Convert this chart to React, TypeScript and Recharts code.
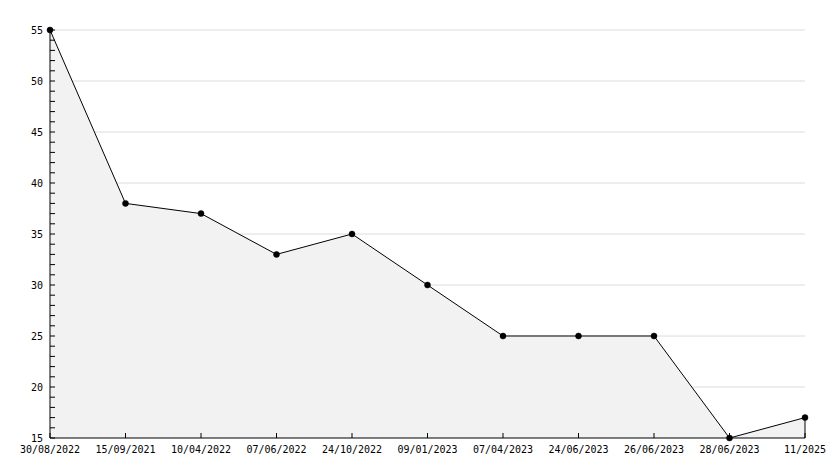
import { Area, AreaChart, CartesianGrid, ReferenceLine, XAxis, YAxis } from "recharts";

const DATES = [
  "30/08/2022",
  "15/09/2021",
  "10/04/2022",
  "07/06/2022",
  "24/10/2022",
  "09/01/2023",
  "07/04/2023",
  "24/06/2023",
  "26/06/2023",
  "28/06/2023",
  "11/2025",
];
const VALUES = [55, 38, 37, 33, 35, 30, 25, 25, 25, 15, 17];
const Y_TICKS = [15, 16, 17, 18, 19, 20, 21, 22, 23, 24, 25, 26, 27, 28, 29, 30, 31, 32, 33, 34, 35, 36, 37, 38, 39, 40, 41, 42, 43, 44, 45, 46, 47, 48, 49, 50, 51, 52, 53, 54, 55];
const GRID_VALUES = [20, 25, 30, 35, 40, 45, 50, 55];
const Y_MIN = 15;
const Y_MAX = 55;

const chartData = DATES.map((date, i) => ({ date, value: VALUES[i] }));
const lastDate = DATES[DATES.length - 1];
const lastValue = VALUES[VALUES.length - 1];

const FONT = "'DejaVu Sans Mono', monospace";

const XTick = (props: any) => {
  const { x, y, payload } = props;
  return (
    <g>
      <line x1={x} y1={y} x2={x} y2={y - 5} stroke="#000" />
      <text x={x} y={y + 11} dy="0.35em" textAnchor="middle" fontFamily={FONT} fontSize={10} fill="#000">
        {payload.value}
      </text>
    </g>
  );
};

const YTick = (props: any) => {
  const { x, y, payload } = props;
  const major = payload.value % 5 === 0;
  return (
    <g>
      <line x1={x} y1={y} x2={x + 5} y2={y} stroke="#000" />
      {major ? (
        <text x={x - 7} y={y} dy="0.35em" textAnchor="end" fontFamily={FONT} fontSize={10} fill="#000">
          {payload.value}
        </text>
      ) : null}
    </g>
  );
};

export default function App() {
  return (
    <div style={{ position: "absolute", left: 0, top: 0, background: "#fff" }}>
      <AreaChart
        width={834}
        height={468}
        data={chartData}
        margin={{ top: 30, right: 29, left: 0, bottom: 0 }}
      >
        <CartesianGrid
          vertical={false}
          horizontalValues={GRID_VALUES}
          stroke="#dcdcdc"
        />
        <XAxis
          dataKey="date"
          interval={0}
          height={30}
          tickSize={0}
          tickMargin={0}
          tickLine={false}
          axisLine={{ stroke: "#000" }}
          tick={<XTick />}
        />
        <YAxis
          domain={[Y_MIN, Y_MAX]}
          ticks={Y_TICKS}
          interval={0}
          width={50}
          tickSize={0}
          tickMargin={0}
          tickLine={false}
          axisLine={{ stroke: "#000" }}
          tick={<YTick />}
        />
        <Area
          type="linear"
          dataKey="value"
          stroke="#000"
          strokeWidth={1}
          fill="#f2f2f2"
          fillOpacity={1}
          isAnimationActive={false}
          dot={{ r: 3, fill: "#000", stroke: "#000", strokeWidth: 0.5 }}
          activeDot={false}
        />
        {/* closing edge of the filled area at the last point */}
        <ReferenceLine
          segment={[
            { x: lastDate, y: Y_MIN },
            { x: lastDate, y: lastValue },
          ]}
          stroke="#000"
        />
      </AreaChart>
    </div>
  );
}
